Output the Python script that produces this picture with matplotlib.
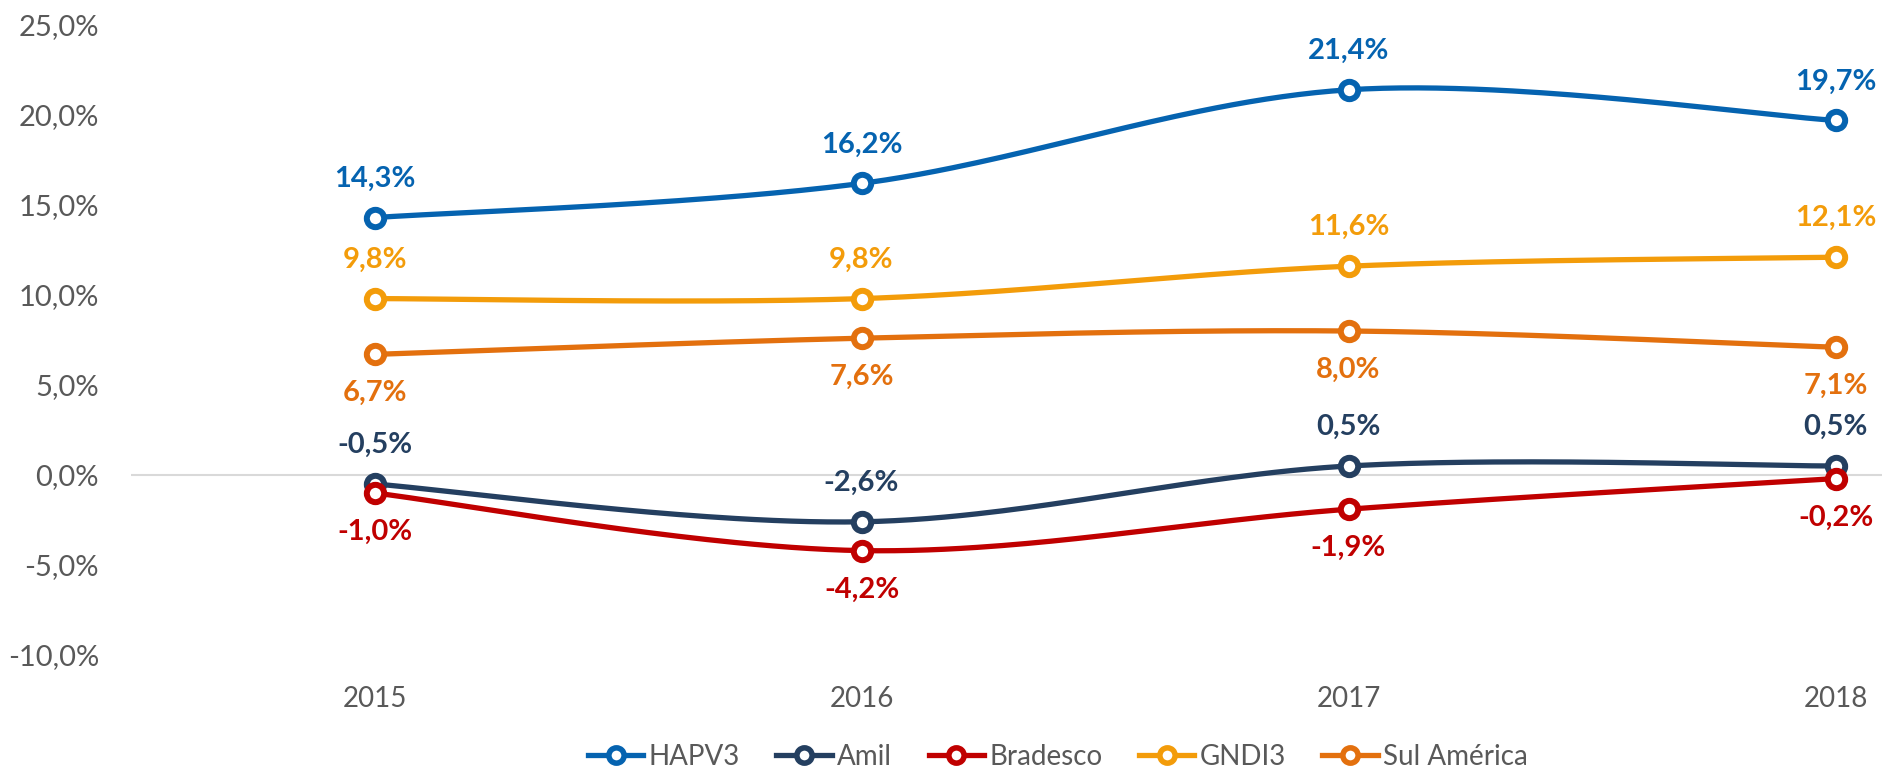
import numpy as np
import matplotlib
matplotlib.use("Agg")
import matplotlib.pyplot as plt
from matplotlib.lines import Line2D

plt.rcParams['font.family'] = ['Lato', 'DejaVu Sans']

years = ["2015", "2016", "2017", "2018"]
series_names = ["HAPV3", "Amil", "Bradesco", "GNDI3", "Sul América"]
hapv3 = [14.3, 16.2, 21.4, 19.7]
amil = [-0.5, -2.6, 0.5, 0.5]
bradesco = [-1.0, -4.2, -1.9, -0.2]
gndi3 = [9.8, 9.8, 11.6, 12.1]
sul_america = [6.7, 7.6, 8.0, 7.1]
yticks = [-10, -5, 0, 5, 10, 15, 20, 25]

colors = ["#0563B0", "#243F60", "#C00000", "#F39C0A", "#E3700E"]
# label position: +1 above, -1 below for each point
label_pos = {
    "HAPV3": [1, 1, 1, 1],
    "Amil": [1, 1, 1, 1],
    "Bradesco": [-1, -1, -1, -1],
    "GNDI3": [1, 1, 1, 1],
    "Sul América": [-1, -1, -1, -1],
}
data = [hapv3, amil, bradesco, gndi3, sul_america]

W, H = 1882, 771
fig = plt.figure(figsize=(W / 100, H / 100), dpi=100)
ax_left = 131 / W
ax_bottom = 1 - 655 / H
ax_top = 1 - 25 / H
ax = fig.add_axes([ax_left, ax_bottom, 1 - ax_left, ax_top - ax_bottom])
x = np.arange(len(years))
ax.set_xlim(-0.5, -0.5 + (W - 131) / 487.0)
ax.set_ylim(-10, 25)


def smooth(xs, ys, n=60):
    xs = np.asarray(xs, float)
    ys = np.asarray(ys, float)
    P = np.column_stack([xs, ys])
    out = [P[0]]
    for i in range(len(P) - 1):
        p0 = P[i - 1] if i > 0 else P[i]
        p1 = P[i]
        p2 = P[i + 1]
        p3 = P[i + 2] if i + 2 < len(P) else P[i + 1]
        c1 = p1 + (p2 - p0) / 6.0
        c2 = p2 - (p3 - p1) / 6.0
        t = np.linspace(0, 1, n)[1:, None]
        pts = ((1 - t) ** 3) * p1 + 3 * ((1 - t) ** 2) * t * c1 + 3 * (1 - t) * t ** 2 * c2 + t ** 3 * p2
        out.extend(pts)
    out = np.array(out)
    return out[:, 0], out[:, 1]


ax.axhline(0, color="#D9D9D9", lw=1.5, zorder=1)

for name, vals, col in zip(series_names, data, colors):
    sx, sy = smooth(x, vals)
    ax.plot(sx, sy, color=col, lw=3.8, zorder=3, solid_capstyle="round")
    ax.plot(x, vals, linestyle="none", marker="o", markersize=12.5,
            markerfacecolor="white", markeredgecolor=col, markeredgewidth=4.3, zorder=4)
    for xi, v, pos in zip(x, vals, label_pos[name]):
        txt = f"{v:.1f}%".replace(".", ",")
        ax.annotate(txt, (xi, v), xytext=(0, 28 * pos), textcoords="offset points",
                    ha="center", va="center", fontsize=21, fontweight="bold", color=col,
                    zorder=5, annotation_clip=False)

for s in ax.spines.values():
    s.set_visible(False)
ax.set_yticks(yticks)
ax.set_yticklabels([f"{t:.1f}%".replace(".", ",") for t in yticks])
ax.tick_params(axis="y", length=0, pad=23, labelsize=21, labelcolor="#595959")
ax.set_xticks(x)
ax.set_xticklabels(years)
ax.tick_params(axis="x", length=0, pad=22, labelsize=20, labelcolor="#595959")

handles = [Line2D([0], [0], color=c, lw=3.8, marker="o", markersize=11,
                  markerfacecolor="white", markeredgecolor=c, markeredgewidth=4)
           for c in colors]
fig.legend(handles, series_names, loc="center", bbox_to_anchor=(1058 / W, 1 - 757 / H),
           ncol=5, frameon=False, fontsize=20, labelcolor="#595959",
           handlelength=2.0, handletextpad=0.2, columnspacing=1.3)

fig.savefig("out.png", dpi=100)
